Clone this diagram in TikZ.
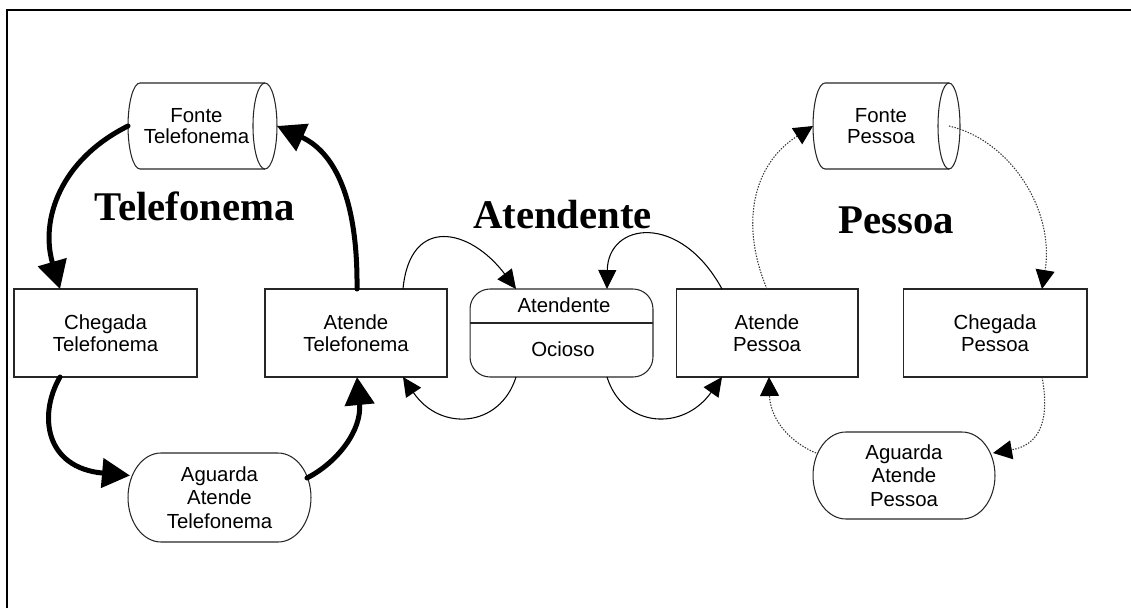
\documentclass[tikz,border=0pt]{standalone}
\usepackage{fontspec}
\setmainfont{Liberation Serif}
\setsansfont{Liberation Sans}
\usetikzlibrary{arrows.meta,calc}
\begin{document}
\begin{tikzpicture}[x=0.02cm,y=-0.02cm,
  every node/.style={inner sep=0pt, outer sep=0pt},
  lbl/.style={font=\sffamily\fontsize{11.6pt}{12.23pt}\selectfont, align=center},
  ovallbl/.style={font=\sffamily\fontsize{11.6pt}{13.3pt}\selectfont, align=center},
  box/.style={lbl, draw=black!85, line width=0.6pt, minimum height=1.76cm},
  outline/.style={draw=black!85, line width=0.6pt},
  title/.style={font=\rmfamily\bfseries\fontsize{23.2pt}{27pt}\selectfont, anchor=base},
  thk/.style={line width=0.1cm, line cap=round, -{Triangle[length=0.56cm,width=0.58cm]}},
  thn/.style={line width=0.6pt, -{Triangle[length=0.38cm,width=0.36cm]}},
  dot/.style={line width=0.6pt, draw=black!80, dash pattern=on 0.8pt off 0.8pt,
              -{Triangle[length=0.38cm,width=0.38cm,color=black]}},
]
\useasboundingbox (0,0) rectangle (1131,608);
% frame
\draw[line width=1.7pt] (7,608) -- (7,10) -- (1131,10);

% sources (cylinders)
\node[lbl, minimum width=2.74cm, minimum height=1.72cm] (ft) at (196.5,126) {Fonte\\Telefonema};
\draw[outline] ($(ft.north west)+(12,0)$) -- (ft.north east)
  (ft.south east) -- ($(ft.south west)+(12,0)$) arc(90:270:12 and 43);
\draw[outline] (ft.east) ellipse (12 and 43);

\node[lbl, minimum width=2.72cm, minimum height=1.72cm] (fp) at (881,126) {Fonte\\Pessoa};
\draw[outline] ($(fp.north west)+(12,0)$) -- (fp.north east)
  (fp.south east) -- ($(fp.south west)+(12,0)$) arc(90:270:12 and 43);
\draw[outline] (fp.east) ellipse (11 and 43);

% activities
\node[box, minimum width=3.66cm] (ct) at (105.5,333) {Chegada\\Telefonema};
\node[box, minimum width=3.64cm] (at) at (356,333) {Atende\\Telefonema};
\node[box, minimum width=3.64cm] (ap) at (767,333) {Atende\\Pessoa};
\node[box, minimum width=3.68cm] (cp) at (995,333) {Chegada\\Pessoa};

% idle state of the attendant
\node[draw=black!85, line width=0.6pt, rounded corners=0.4cm,
      minimum width=3.66cm, minimum height=1.76cm] (ao) at (561.5,333) {};
\draw[outline] ($(ao.north west)+(0,34)$) -- ($(ao.north east)+(0,34)$);
\node[lbl, anchor=base] (aot) at (564,312.7) {Atendente};
\node[lbl, anchor=base] (aob) at (563,356) {Ocioso};

% queues
\node[ovallbl, minimum width=3.66cm, minimum height=1.78cm] (wt) at (219.5,497.5) {Aguarda\\Atende\\Telefonema};
\draw[outline] ($(wt.north west)+(33,0)$) -- ($(wt.north east)+(-33,0)$) arc(-90:90:33 and 44.5)
  -- ($(wt.south west)+(33,0)$) arc(90:270:33 and 44.5) -- cycle;

\node[ovallbl, minimum width=3.64cm, minimum height=1.74cm] (wp) at (904,475.5) {Aguarda\\Atende\\Pessoa};
\draw[outline] ($(wp.north west)+(33,0)$) -- ($(wp.north east)+(-33,0)$) arc(-90:90:33 and 43.5)
  -- ($(wp.south west)+(33,0)$) arc(90:270:33 and 43.5) -- cycle;

% titles
\node[title] (t1) at (194.7,220) {Telefonema};
\node[title] (t2) at (562.5,228) {Atendente};
\node[title] (t3) at (896.5,233) {Pessoa};

% phone call cycle
\draw[thk] (ft.west) .. controls (60,160) and (40,220) .. ($(ct.north west)+(46,0)$);
\draw[thk] ($(ct.south west)+(46,0)$) .. controls (38,415) and (45,468) .. ($(wt.west)+(2,-22)$);
\draw[thk] ($(wt.east)+(-4,-19.5)$) .. controls (338,462) and (362,430) .. ($(at.south)+(1,0)$);
\draw[thk] ($(at.north)+(1,0)$) .. controls (358,190) and (330,150) .. ($(ft.east)+(12,0)$);

% attendant cycle
\draw[thn] ($(at.north east)+(-44,0)$) .. controls (410,215) and (470,228) .. ($(ao.north west)+(46,0)$);
\draw[thn] ($(ap.north west)+(46,0)$) .. controls (680,212) and (608,222) .. ($(ao.north east)+(-46,0)$);
\draw[thn] ($(ao.south west)+(46,0)$) .. controls (500,428) and (440,432) .. ($(at.south east)+(-44,0)$);
\draw[thn] ($(ao.south east)+(-46,0)$) .. controls (623,428) and (683,432) .. ($(ap.south west)+(46,0)$);

% person cycle
\draw[dot] (ap.north) .. controls (740,225) and (752,165) .. (fp.west);
\draw[dot] (fp.east) .. controls (1010,140) and (1055,210) .. ($(cp.north)+(47,0)$);
\draw[dot] ($(cp.south)+(47,0)$) .. controls (1050,420) and (1040,445) .. ($(wp.east)+(-2,-22.5)$);
\draw[dot] ($(wp.west)+(3,-22.5)$) .. controls (785,440) and (770,415) .. ($(ap.south)+(2,0)$);
\end{tikzpicture}
\end{document}
